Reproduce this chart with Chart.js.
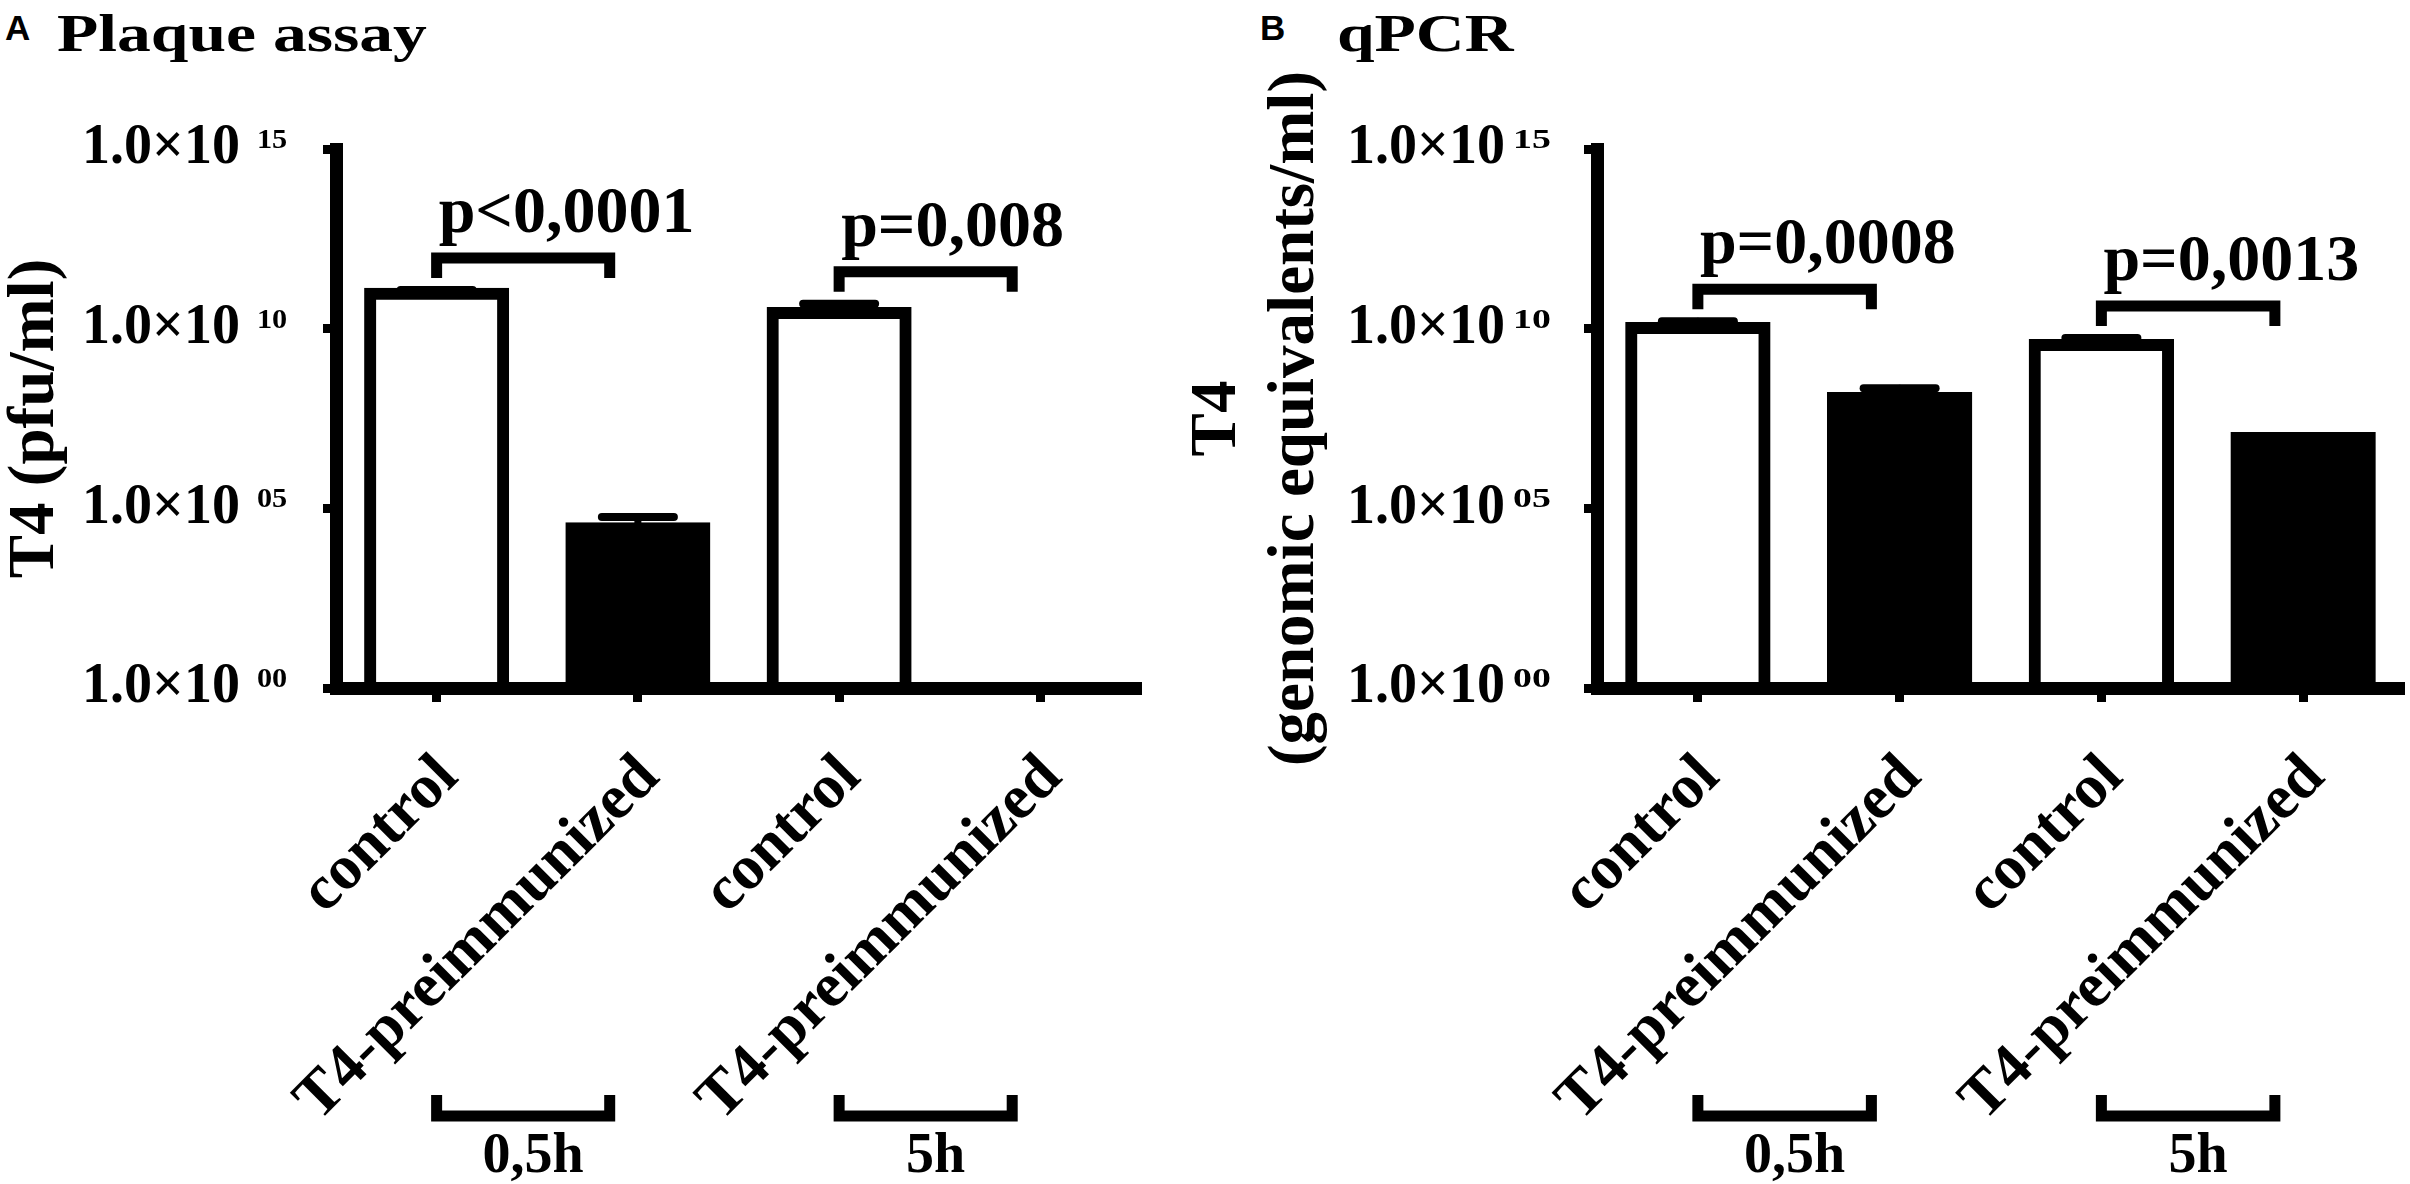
<!DOCTYPE html>
<html>
<head>
<meta charset="utf-8">
<script src="https://cdn.jsdelivr.net/npm/chart.js@4.4.1/dist/chart.umd.min.js"></script>
<style>
html, body { margin: 0; padding: 0; background: #ffffff; }
body { width: 2410px; height: 1184px; position: relative; overflow: hidden; }
.lbl { position: absolute; line-height: 1; white-space: nowrap; color: #000; }
.panel { position: absolute; top: 0; height: 1184px; }
canvas { display: block; }
</style>
</head>
<body>
<div class="lbl" style="left:5px;top:8px;font:bold 35px 'Liberation Sans',Arial,sans-serif;">A</div>
<div class="lbl" style="left:57px;top:3px;font:bold 53px 'Liberation Serif','Times New Roman',serif;transform:scaleX(1.275);transform-origin:0 0;">Plaque assay</div>
<div class="lbl" style="left:1260px;top:8px;font:bold 35px 'Liberation Sans',Arial,sans-serif;">B</div>
<div class="lbl" style="left:1337px;top:3px;font:bold 53px 'Liberation Serif','Times New Roman',serif;transform:scaleX(1.275);transform-origin:0 0;">qPCR</div>
<div class="panel" style="left:0;width:1160px;"><canvas id="plaque" width="1160" height="1184"></canvas></div>
<div class="panel" style="left:1150px;width:1260px;"><canvas id="qpcr" width="1260" height="1184"></canvas></div>
<script>
// ---- data ----
const categories = ['control', 'T4-preimmunized', 'control', 'T4-preimmunized'];
const groupLabels = ['0,5h', '5h'];
const yTickValues = [1, 1e5, 1e10, 1e15];
const barFill = ['#ffffff', '#000000', '#ffffff', '#000000'];

const plaqueMean = [9.3e10, 2.8e4, 2.75e10, null];
const plaqueUpper = [1.2e11, 5.7e4, 4.9e10, null];
const plaquePValues = ['p<0,0001', 'p=0,008'];

const qpcrMean = [1.05e10, 1.18e8, 3.5e9, 9.1e6];
const qpcrUpper = [1.6e10, 2.2e8, 5.5e9, null];
const qpcrPValues = ['p=0,0008', 'p=0,0013'];

const FONT = "'Liberation Serif', 'Times New Roman', serif";
Chart.defaults.font.family = FONT;
Chart.defaults.color = '#000';

function makePlugins(cfg) {
  const expo = {
    id: 'expo' + cfg.id,
    afterDraw(chart) {
      const ys = chart.scales.y, ctx = chart.ctx;
      ctx.save();
      ctx.fillStyle = '#000';
      ctx.font = 'bold 27px ' + FONT;
      ctx.textAlign = 'left';
      ctx.textBaseline = 'alphabetic';
      ys.ticks.forEach(t => {
        const y = ys.getPixelForValue(t.value);
        const e = String(Math.round(Math.log10(t.value))).padStart(2, '0');
        const x = ys.right - 13 - cfg.tickPad + cfg.expGap;
        ctx.save();
        ctx.translate(x, y - 1);
        ctx.scale(cfg.expScale, 1);
        ctx.fillText(e, 0, 0);
        ctx.restore();
      });
      ctx.restore();
    }
  };
  const err = {
    id: 'err' + cfg.id,
    afterDatasetsDraw(chart) {
      const meta = chart.getDatasetMeta(0), ys = chart.scales.y, ctx = chart.ctx;
      ctx.save();
      ctx.strokeStyle = '#000';
      ctx.lineCap = 'round';
      meta.data.forEach((el, i) => {
        const m = cfg.mean[i], up = cfg.upper[i];
        if (m == null || up == null) return;
        const y0 = ys.getPixelForValue(m), y1 = ys.getPixelForValue(up);
        ctx.lineWidth = 7;
        ctx.beginPath(); ctx.moveTo(el.x, y0); ctx.lineTo(el.x, y1); ctx.stroke();
        ctx.lineWidth = 8;
        ctx.beginPath(); ctx.moveTo(el.x - 36, y1); ctx.lineTo(el.x + 36, y1); ctx.stroke();
      });
      ctx.restore();
    }
  };
  const annot = {
    id: 'annot' + cfg.id,
    afterDraw(chart) {
      const xs = chart.scales.x, ys = chart.scales.y, ctx = chart.ctx;
      const bottom = chart.chartArea.bottom;
      ctx.save();
      ctx.strokeStyle = '#000';
      ctx.fillStyle = '#000';
      ctx.lineWidth = 11;
      ctx.lineCap = 'butt';
      ctx.lineJoin = 'miter';
      for (let k = 0; k < 2; k++) {
        const i = 2 * k, j = 2 * k + 1;
        const x1 = xs.getPixelForValue(i);
        const xj = xs.getPixelForValue(j);
        const x2 = x1 + 0.86 * (xj - x1);
        // significance bracket
        const y = ys.getPixelForValue(cfg.upper[i]) - 32;
        ctx.beginPath();
        ctx.moveTo(x1, y + 20); ctx.lineTo(x1, y); ctx.lineTo(x2, y); ctx.lineTo(x2, y + 20);
        ctx.stroke();
        ctx.font = 'bold 66px ' + FONT;
        ctx.textAlign = 'left';
        ctx.textBaseline = 'alphabetic';
        ctx.fillText(cfg.pvals[k], x1 + 2, y - 26);
        // time group bracket
        const yb = bottom + 428;
        ctx.beginPath();
        ctx.moveTo(x1, yb - 21); ctx.lineTo(x1, yb); ctx.lineTo(x2, yb); ctx.lineTo(x2, yb - 21);
        ctx.stroke();
        ctx.font = 'bold 56px ' + FONT;
        ctx.textAlign = 'center';
        ctx.fillText(groupLabels[k], (x1 + x2) / 2 + 10, bottom + 484);
      }
      ctx.restore();
    }
  };
  return [err, expo, annot];
}

function makeChart(cfg) {
  const canvas = document.getElementById(cfg.id);
  return new Chart(canvas, {
    type: 'bar',
    data: {
      labels: categories,
      datasets: [{
        data: cfg.mean,
        backgroundColor: barFill,
        borderColor: '#000',
        borderWidth: 12,
        borderSkipped: 'start',
        inflateAmount: 6,
        barPercentage: 0.661,
        categoryPercentage: 1,
        clip: false
      }]
    },
    options: {
      responsive: false,
      devicePixelRatio: 1,
      animation: false,
      events: [],
      layout: { padding: { top: 149, left: 0, right: canvas.width - cfg.areaRight, bottom: 0 } },
      plugins: { legend: { display: false }, tooltip: { enabled: false } },
      scales: {
        x: {
          type: 'category',
          offset: true,
          grid: { display: true, drawOnChartArea: false, drawTicks: true, tickLength: 14, tickWidth: 9, color: '#000', tickColor: '#000', offset: false },
          border: { display: true, width: 13, color: '#000', z: 1 },
          ticks: {
            color: '#000',
            font: { size: 63, weight: 'bold', lineHeight: 1.2 },
            minRotation: 45, maxRotation: 45, autoSkip: false,
            padding: 39, labelOffset: 12
          },
          afterFit(s) { s.height = 1184 - 688; s.paddingLeft = 0; s.paddingRight = 0; }
        },
        y: {
          type: 'logarithmic',
          min: 1, max: 1e15,
          afterBuildTicks(s) { s.ticks = yTickValues.map(v => ({ value: v })); },
          grid: { display: true, drawOnChartArea: false, drawTicks: true, tickLength: 13, tickWidth: 9, color: '#000', tickColor: '#000' },
          border: { display: true, width: 13, color: '#000', z: 1 },
          ticks: {
            color: '#000',
            font: { size: 56, weight: 'bold' },
            padding: cfg.tickPad,
            callback: () => '1.0\u00d710'
          },
          title: {
            display: true,
            text: cfg.title,
            color: '#000',
            font: { size: 65, weight: 'bold', lineHeight: cfg.titleLH },
            padding: { top: cfg.titlePad, bottom: 0 }
          },
          afterFit(s) { s.width = cfg.areaLeft; s.paddingTop = 0; s.paddingBottom = 0; }
        }
      }
    },
    plugins: makePlugins(cfg)
  });
}

makeChart({
  id: 'plaque', mean: plaqueMean, upper: plaqueUpper, pvals: plaquePValues,
  areaLeft: 336, areaRight: 1141, tickPad: 83, expGap: 17, expScale: 1.12,
  title: 'T4 (pfu/ml)', titleLH: 1.0, titlePad: 3.5
});
makeChart({
  id: 'qpcr', mean: qpcrMean, upper: qpcrUpper, pvals: qpcrPValues,
  areaLeft: 447, areaRight: 1254, tickPad: 79, expGap: 8, expScale: 1.4,
  title: ['T4', '(genomic equivalents/ml)'], titleLH: 1.2, titlePad: 29
});
</script>
</body>
</html>
